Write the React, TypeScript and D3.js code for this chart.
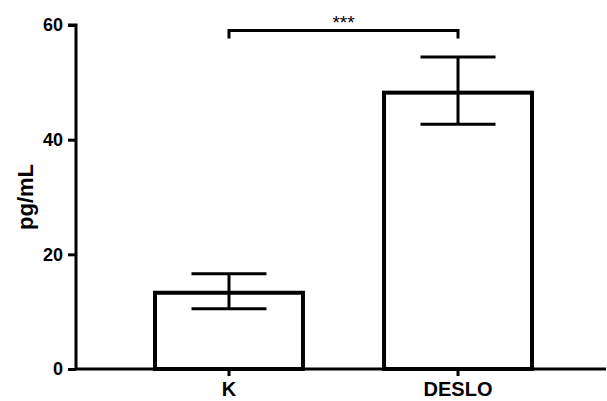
import React, { useRef, useEffect } from "react";
import * as d3 from "d3";

const groups = ["K", "DESLO"];
const means = [13.3, 48.2];
const errHigh = [16.6, 54.4];
const errLow = [10.5, 42.7];
const yTicks = [0, 20, 40, 60];
const sigLabel = "***";

const W = 607;
const H = 401;

export default function App() {
  const svgRef = useRef<SVGSVGElement>(null);

  useEffect(() => {
    const svg = d3.select(svgRef.current);
    svg.selectAll("*").remove();

    const font = "'Liberation Sans', Arial, sans-serif";
    const x0 = 76, x1 = 606, yBottom = 369, yTop = 25;

    const y = d3.scaleLinear().domain([0, 60]).range([yBottom, yTop]);
    const x = d3.scaleBand().domain(groups).range([x0, 611]).paddingInner(0.354).paddingOuter(0.345);
    const bw = x.bandwidth();
    const cx = (g: string) => (x(g) as number) + bw / 2;
    const capW = 75;

    // bars
    svg.append("g")
      .selectAll("rect")
      .data(groups)
      .enter()
      .append("rect")
      .attr("x", (d) => x(d) as number)
      .attr("y", (d, i) => y(means[i]))
      .attr("width", bw)
      .attr("height", (d, i) => yBottom - y(means[i]))
      .style("fill", "white")
      .style("stroke", "black")
      .style("stroke-width", 4);

    // error bars
    const err = svg.append("g").style("stroke", "black").style("stroke-width", 3);
    groups.forEach((g, i) => {
      err.append("line")
        .attr("x1", cx(g)).attr("x2", cx(g))
        .attr("y1", y(errHigh[i])).attr("y2", y(errLow[i]));
      [errHigh[i], errLow[i]].forEach((v) => {
        err.append("line")
          .attr("x1", cx(g) - capW / 2).attr("x2", cx(g) + capW / 2)
          .attr("y1", y(v)).attr("y2", y(v));
      });
    });

    // y axis
    const yAxis = svg.append("g")
      .attr("transform", `translate(${x0},0)`)
      .call(d3.axisLeft(y).tickValues(yTicks).tickSize(8).tickPadding(5).tickFormat(d3.format("d")));
    yAxis.select(".domain").attr("d", `M-8,${yTop}H0V${yBottom}`).style("stroke-width", 3);
    yAxis.selectAll(".tick line").style("stroke-width", 3);
    yAxis.selectAll("text")
      .style("font-family", font)
      .style("font-weight", "bold")
      .style("font-size", "18px")
      .style("fill", "black");

    // x axis
    const xAxis = svg.append("g")
      .attr("transform", `translate(0,${yBottom})`)
      .call(d3.axisBottom(x).tickSize(7).tickPadding(6));
    xAxis.select(".domain").attr("d", `M${x0},0H${x1}`).style("stroke-width", 3);
    xAxis.selectAll(".tick line").style("stroke-width", 3);
    xAxis.selectAll("text")
      .style("font-family", font)
      .style("font-weight", "bold")
      .style("font-size", "20px")
      .style("fill", "black");

    // y label
    svg.append("text")
      .attr("transform", `translate(33,197) rotate(-90)`)
      .attr("text-anchor", "middle")
      .style("font-family", font)
      .style("font-weight", "bold")
      .style("font-size", "22px")
      .text("pg/mL");

    // significance bracket
    const by = 30.5;
    svg.append("path")
      .attr("d", `M${cx(groups[0])},${by + 8}V${by}H${cx(groups[1])}V${by + 8}`)
      .style("fill", "none")
      .style("stroke", "black")
      .style("stroke-width", 3);
    svg.append("text")
      .attr("x", (cx(groups[0]) + cx(groups[1])) / 2)
      .attr("y", by - 2)
      .attr("text-anchor", "middle")
      .style("font-family", font)
      .style("font-size", "19px")
      .text(sigLabel);
  }, []);

  return <svg ref={svgRef} width={W} height={H} style={{ position: "absolute", left: 0, top: 0 }} />;
}
